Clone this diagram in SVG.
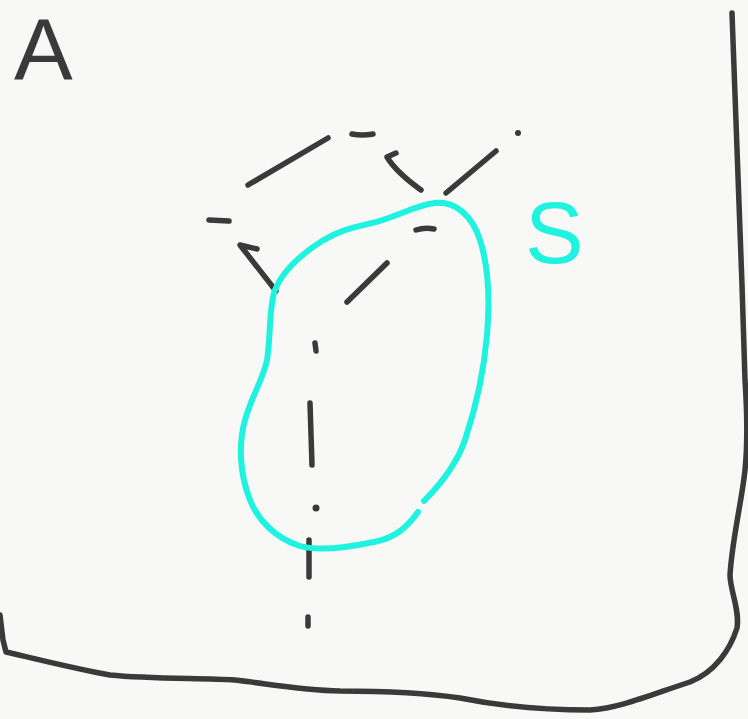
<svg xmlns="http://www.w3.org/2000/svg" width="748" height="719" viewBox="0 0 748 719">
<style>
.ink{fill:none;stroke:#3a3a3a;stroke-width:5.5;stroke-linecap:round;stroke-linejoin:round}
.dot{fill:#3a3a3a}
.cy{fill:none;stroke:#1ff2de;stroke-width:6;stroke-linecap:round;stroke-linejoin:round}
.lbl{font-family:"Liberation Sans",Arial,sans-serif}
</style>
<rect width="748" height="719" fill="#f8f8f7"/>
<g id="frame">
<path class="ink" d="M0,615 L3,640 L6,652 C40,660 80,670 110,675 C150,679 200,678 235,680 C270,684 300,690 340,691 C380,691 420,692 460,698 C500,706 540,710 590,710 C620,708 650,695 690,682 C715,672 730,650 737,628 C740,610 730,590 730,575 C732,540 742,500 745,470 C748,440 747,410 745,380 C741,250 736,100 732,13"/>
</g>
<g id="dashes">
<path class="ink" d="M248,185 L328,138"/>
<path class="ink" d="M352,134 Q362,136 373,134"/>
<path class="ink" d="M209,220 L229,221"/>
<path class="ink" d="M257,249 L240,245 L276,291"/>
<path class="ink" d="M347,302 L387,263"/>
<path class="ink" d="M315,343 L316,351"/>
<path class="ink" d="M396,153 L387,157 Q396,172 421,190"/>
<path class="ink" d="M446,193 L496,151"/>
<circle class="dot" cx="518" cy="133" r="3"/>
<path class="ink" d="M416,230 Q425,227 434,229"/>
<path class="ink" d="M310,403 L312,465"/>
<circle class="dot" cx="316" cy="508" r="3.5"/>
<path class="ink" d="M309,540 L309,577"/>
<path class="ink" d="M308,617 L308,626"/>
</g>
<g id="region-S">
<path class="cy" d="M418,512 C408,526 396,538 374,542 C350,547 320,552 300,546 C275,538 258,520 250,500 C240,475 238,445 245,420 C252,395 263,380 267,360 C271,335 269,305 275,290 C283,270 300,255 322,241 C340,230 355,227 372,223 C395,218 415,205 435,203 C455,201 472,215 480,240 C488,265 490,300 487,335 C484,370 475,410 465,440 C458,460 445,480 424,501"/>
</g>
<g id="labels">
<text class="lbl" x="14" y="80" font-size="88" fill="#3a3a3a">A</text>
<text class="lbl" x="525" y="263" font-size="88" fill="#1ff2de">S</text>
</g>
</svg>
